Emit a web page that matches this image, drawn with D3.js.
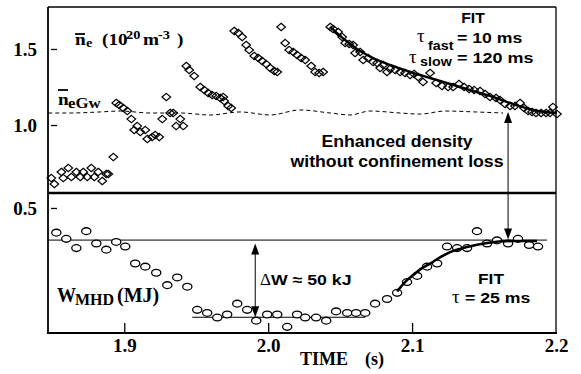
<!DOCTYPE html>
<html>
<head>
<meta charset="utf-8">
<script src="https://cdn.jsdelivr.net/npm/d3@7"></script>
<style>
  body { margin: 0; background: #fff; }
  svg { display: block; }
  .serif { font-family: "Liberation Serif", "Times New Roman", serif; font-weight: bold; }
  .greek { font-family: "Liberation Serif", "Times New Roman", serif; }
  .sans { font-family: "Liberation Sans", Arial, sans-serif; font-weight: bold; }
  .tick text { font-family: "Liberation Serif", "Times New Roman", serif; font-weight: bold; font-size: 19px; }
</style>
</head>
<body>
<div id="chart"></div>
<script>
// line-averaged density (10^20 m^-3) vs time (s)
var neTime = [
  1.8493, 1.8514, 1.8563, 1.8576, 1.8611, 1.8632, 1.8667, 1.8694, 1.8715, 1.8743, 1.8771, 1.8792, 1.8819, 1.8847, 1.8875, 1.8889, 1.8924,
  1.8944, 1.8965, 1.8993, 1.9021, 1.9049, 1.9069, 1.9090, 1.9111, 1.9146, 1.9160, 1.9194, 1.9215, 1.9243, 1.9264, 1.9292, 1.9319, 1.9340, 1.9361, 1.9389, 1.9410,
  1.9431, 1.9451, 1.9486, 1.9528, 1.9556, 1.9583, 1.9611, 1.9639, 1.9667, 1.9688, 1.9694, 1.9722, 1.9743,
  1.9764, 1.9792, 1.9819, 1.9847, 1.9868, 1.9903, 1.9931, 1.9958, 1.9986, 2.0014, 2.0042, 2.0063,
  2.0090, 2.0118, 2.0146, 2.0174, 2.0201, 2.0229, 2.0257, 2.0299, 2.0326, 2.0354, 2.0382,
  2.0431, 2.0451, 2.0486, 2.0514, 2.0535, 2.0563, 2.0590, 2.0604, 2.0639, 2.0660, 2.0694, 2.0729, 2.0757, 2.0778, 2.0799, 2.0826, 2.0847, 2.0882, 2.0917, 2.0951,
  2.0986, 2.1014, 2.1042, 2.1076, 2.1125, 2.1167, 2.1208, 2.1250, 2.1285, 2.1326, 2.1361, 2.1396, 2.1431, 2.1472, 2.1507, 2.1542, 2.1583, 2.1611, 2.1646, 2.1681,
  2.1715, 2.1750, 2.1778, 2.1806, 2.1833, 2.1861, 2.1896, 2.1931, 2.1958, 2.1979, 2.2007
];
var neValue = [
  0.651, 0.612, 0.691, 0.651, 0.717, 0.658, 0.691, 0.658, 0.691, 0.658, 0.717, 0.658, 0.691, 0.632, 0.678, 0.678, 0.789,
  1.145, 1.132, 1.112, 1.092, 1.039, 0.967, 0.993, 0.954, 0.967, 0.908, 0.921, 0.934, 0.921, 1.039, 1.184, 1.079, 1.079, 0.993, 1.039, 0.993,
  1.388, 1.362, 1.322, 1.250, 1.230, 1.211, 1.197, 1.191, 1.178, 1.184, 1.158, 1.125, 1.112,
  1.618, 1.605, 1.579, 1.526, 1.493, 1.454, 1.441, 1.421, 1.401, 1.375, 1.355, 1.349,
  1.645, 1.539, 1.493, 1.480, 1.461, 1.441, 1.428, 1.388, 1.349, 1.342, 1.349,
  1.645, 1.632, 1.612, 1.579, 1.539, 1.533, 1.526, 1.474, 1.480, 1.428, 1.441, 1.414, 1.408, 1.375, 1.395, 1.349, 1.368, 1.362, 1.349, 1.342,
  1.329, 1.336, 1.316, 1.283, 1.342, 1.276, 1.257, 1.250, 1.250, 1.270, 1.250, 1.237, 1.230, 1.224, 1.204, 1.184, 1.178, 1.164, 1.138, 1.125,
  1.125, 1.145, 1.112, 1.092, 1.086, 1.079, 1.079, 1.079, 1.079, 1.118, 1.072
];

// two-time-constant fit of the density decay
var neFitTime = [2.0431, 2.0500, 2.0569, 2.0639, 2.0743, 2.0847, 2.0986, 2.1125, 2.1264, 2.1403, 2.1542, 2.1681, 2.1819, 2.1924, 2.2007];
var neFitValue = [1.645, 1.586, 1.533, 1.487, 1.434, 1.395, 1.349, 1.309, 1.270, 1.230, 1.191, 1.145, 1.105, 1.086, 1.079];

// Greenwald density (dashed)
var gwTime = [1.8472, 1.8625, 1.8833, 1.8972, 1.9181, 1.9389, 1.9597, 1.9806, 2.0014, 2.0222, 2.0431, 2.0569, 2.0708, 2.0917, 2.1056, 2.1229, 2.1438, 2.1632];
var gwValue = [1.079, 1.079, 1.086, 1.092, 1.079, 1.079, 1.066, 1.086, 1.066, 1.099, 1.079, 1.066, 1.092, 1.079, 1.072, 1.092, 1.086, 1.079];

// stored energy W_MHD (MJ)
var wTime = [
  1.8528, 1.8597, 1.8667, 1.8736, 1.8806, 1.8875, 1.8944, 1.9007, 1.9076, 1.9146, 1.9222, 1.9299, 1.9368, 1.9438,
  1.9507, 1.9576, 1.9646, 1.9715, 1.9785, 1.9854, 1.9917, 1.9993, 2.0063, 2.0132, 2.0201, 2.0257, 2.0333, 2.0403,
  2.0472, 2.0549, 2.0611, 2.0674, 2.0743, 2.0826, 2.0896, 2.0965, 2.1035, 2.1104, 2.1174, 2.1243, 2.1313, 2.1382,
  2.1451, 2.1521, 2.1590, 2.1667, 2.1736, 2.1813, 2.1875
];
var wValue = [
  0.484, 0.480, 0.474, 0.485, 0.477, 0.473, 0.478, 0.475, 0.464, 0.462, 0.458, 0.450, 0.455, 0.449,
  0.434, 0.432, 0.429, 0.431, 0.438, 0.434, 0.427, 0.431, 0.431, 0.423, 0.431, 0.429, 0.429, 0.427,
  0.433, 0.432, 0.432, 0.432, 0.438, 0.441, 0.445, 0.452, 0.456, 0.462, 0.464, 0.475, 0.474, 0.474,
  0.485, 0.477, 0.479, 0.477, 0.480, 0.476, 0.475
];

// recovery fit, tau = 25 ms
var wFitTime = [2.0896, 2.0951, 2.1007, 2.1069, 2.1125, 2.1194, 2.1264, 2.1382, 2.1521, 2.1701, 2.1868];
var wFitValue = [0.446, 0.452, 0.4565, 0.461, 0.464, 0.468, 0.4714, 0.4747, 0.4773, 0.4786, 0.4786];

// reference levels / annotation anchors
var wTop = 0.4792, wBottom = 0.4292;
var dropArrowTime = 1.991, gapArrowTime = 2.1667, gwAtArrow = 1.079;

var neTicks = [1.0, 1.5];
var wTicks = [0.5];
var timeTicks = [1.9, 2.0, 2.1];
var timeLabels = [1.9, 2.0, 2.1, 2.2];

var width = 581, height = 374;

var svg = d3.select("#chart")
  .append("svg")
  .attr("width", width)
  .attr("height", height);

var x = d3.scaleLinear().domain([1.847, 2.2]).range([48, 556]);
var yNe = d3.scaleLinear().domain([0.553, 1.776]).range([193, 7]);
var yW = d3.scaleLinear().domain([0.419, 0.5097]).range([333, 193]);

function txt(x0, y0, str, cls, size, sx, anchor) {
  return svg.append("text")
    .attr("class", cls)
    .attr("transform", "translate(" + x0 + "," + y0 + ") scale(" + sx + ",1)")
    .attr("font-size", size)
    .attr("text-anchor", anchor || "start")
    .text(str);
}

function hline(x1, x2, yy, w) {
  svg.append("line").attr("x1", x1).attr("x2", x2).attr("y1", yy).attr("y2", yy)
    .attr("stroke", "#000").attr("stroke-width", w);
}
function vline(xx, y1, y2, w) {
  svg.append("line").attr("x1", xx).attr("x2", xx).attr("y1", y1).attr("y2", y2)
    .attr("stroke", "#000").attr("stroke-width", w);
}

function arrow(xx, yTop, yBot) {
  var len = 11, hw = 4;
  vline(xx, yTop + 4, yBot - 4, 1);
  svg.append("path")
    .attr("d", "M" + xx + "," + yTop + "L" + (xx + hw) + "," + (yTop + len) + "L" + (xx - hw) + "," + (yTop + len) + "Z")
    .attr("fill", "#000");
  svg.append("path")
    .attr("d", "M" + xx + "," + yBot + "L" + (xx + hw) + "," + (yBot - len) + "L" + (xx - hw) + "," + (yBot - len) + "Z")
    .attr("fill", "#000");
}

/* ------- FRAME -------*/
hline(48, 556, 7, 1.3);
vline(48, 7, 333, 1.8);
vline(556, 7, 333, 1.3);
hline(47, 557, 333, 2);
hline(48, 556, 193, 2.6);

/* ------- AXES -------*/
// tick marks sit a few px inside the frame
svg.append("g").attr("transform", "translate(51,0)")
  .call(d3.axisRight(yNe).tickValues(neTicks).tickSize(6).tickFormat(""))
  .call(g => g.select(".domain").remove());
svg.append("g").attr("transform", "translate(51,0)")
  .call(d3.axisRight(yW).tickValues(wTicks).tickSize(6).tickFormat(""))
  .call(g => g.select(".domain").remove());

var leftLabels = svg.append("g").attr("transform", "translate(48,0)");
leftLabels.append("g")
  .call(d3.axisLeft(yNe).tickValues(neTicks).tickSize(0).tickPadding(11).tickFormat(d3.format(".1f")));
leftLabels.append("g")
  .call(d3.axisLeft(yW).tickValues(wTicks).tickSize(0).tickPadding(11).tickFormat(d3.format(".1f")));
leftLabels.selectAll(".domain").remove();

svg.append("g").attr("transform", "translate(0,333)")
  .call(d3.axisTop(x).tickValues(timeTicks).tickSize(10).tickFormat(""))
  .call(g => g.select(".domain").remove());
svg.append("g").attr("transform", "translate(0,333)")
  .call(d3.axisBottom(x).tickValues(timeLabels).tickSize(0).tickPadding(5.5).tickFormat(d3.format(".1f")))
  .call(g => g.select(".domain").remove());

svg.selectAll(".tick line").attr("stroke", "#000").attr("stroke-width", 1.3);
svg.selectAll(".tick text").attr("fill", "#000");

/* ------- DENSITY PANEL -------*/
var neData = neTime.map((t, i) => ({ t: t, v: neValue[i] }));
var neFit = neFitTime.map((t, i) => ({ t: t, v: neFitValue[i] }));
var gw = gwTime.map((t, i) => ({ t: t, v: gwValue[i] }));

var lineNe = d3.line().x(d => x(d.t)).y(d => yNe(d.v)).curve(d3.curveMonotoneX);

svg.append("path")
  .datum(gw)
  .attr("d", lineNe)
  .attr("fill", "none")
  .attr("stroke", "#000")
  .attr("stroke-width", 1)
  .attr("stroke-dasharray", "4,3");

svg.append("path")
  .datum(neFit)
  .attr("d", lineNe)
  .attr("fill", "none")
  .attr("stroke", "#000")
  .attr("stroke-width", 2.4);

svg.append("g").selectAll("path.diamond")
  .data(neData)
  .enter().append("path")
  .attr("class", "diamond")
  .attr("transform", d => "translate(" + x(d.t) + "," + yNe(d.v) + ")")
  .attr("d", "M0,-3.7L4.3,0L0,3.7L-4.3,0Z")
  .attr("fill", "none")
  .attr("stroke", "#000")
  .attr("stroke-width", 1.2);

/* ------- ENERGY PANEL -------*/
var wData = wTime.map((t, i) => ({ t: t, v: wValue[i] }));
var wFit = wFitTime.map((t, i) => ({ t: t, v: wFitValue[i] }));

hline(x.range()[0], x(2.1938), yW(wTop), 1);
hline(x(1.9472), x(2.0674), yW(wBottom), 1);

svg.append("g").selectAll("ellipse")
  .data(wData)
  .enter().append("ellipse")
  .attr("cx", d => x(d.t))
  .attr("cy", d => yW(d.v))
  .attr("rx", 4.6)
  .attr("ry", 3.4)
  .attr("fill", "#fff")
  .attr("stroke", "#000")
  .attr("stroke-width", 1.3);

svg.append("path")
  .datum(wFit)
  .attr("d", d3.line().x(d => x(d.t)).y(d => yW(d.v)).curve(d3.curveMonotoneX))
  .attr("fill", "none")
  .attr("stroke", "#000")
  .attr("stroke-width", 2.6);

/* ------- ARROWS -------*/
arrow(x(gapArrowTime), yNe(gwAtArrow) - 1, yW(wTop + 0.0003));
arrow(x(dropArrowTime), yW(wTop - 0.0022), yW(wBottom));

/* ------- LABELS -------*/
// n_e (10^20 m^-3)
hline(75, 85, 34, 1.8);
txt(75, 45, "n", "serif", 16, 1.2);
txt(86, 47, "e", "serif", 12, 1.2);
txt(102, 45, "(10", "serif", 16, 1.2);
txt(126, 39, "20", "serif", 12, 1.2);
txt(143, 45, "m", "serif", 16, 1.2);
txt(158, 39, "-3", "serif", 12, 1.2);
txt(177, 45, ")", "serif", 16, 1.2);

// n_eGw
hline(58, 68, 90, 1.8);
txt(58, 105, "n", "serif", 16, 1.2);
txt(68, 108, "eGw", "serif", 14, 1.2);

// W_MHD (MJ)
txt(57, 302, "W", "serif", 20, 0.95);
txt(75, 305, "MHD", "serif", 16, 1);
txt(117, 302, "(MJ)", "serif", 20, 1);

// time axis title
txt(300, 365, "TIME", "serif", 19, 0.95);
txt(365, 365, "(s)", "serif", 19, 0.95);

// density fit
txt(473, 23, "FIT", "sans", 15, 1.05, "middle");
txt(417, 42, "\u03c4", "greek", 19, 1);
txt(428, 50, "fast", "sans", 13, 1.1);
txt(457, 43, "= 10 ms", "sans", 15, 1.18);
txt(409, 63, "\u03c4", "greek", 19, 1);
txt(420, 66, "slow", "sans", 13, 1.1);
txt(457, 63, "= 120 ms", "sans", 15, 1.2);

txt(397, 147, "Enhanced density", "sans", 17, 1.04, "middle");
txt(397, 167, "without confinement loss", "sans", 17, 1.04, "middle");

// energy drop and recovery fit
txt(260, 285, "\u0394", "greek", 17, 1);
txt(271, 285, "W \u2248 50 kJ", "sans", 15, 1.18);
txt(491, 284, "FIT", "sans", 15, 1.15, "middle");
txt(452, 303, "\u03c4", "greek", 19, 1);
txt(465, 303, "= 25 ms", "sans", 15, 1.18);
</script>
</body>
</html>
